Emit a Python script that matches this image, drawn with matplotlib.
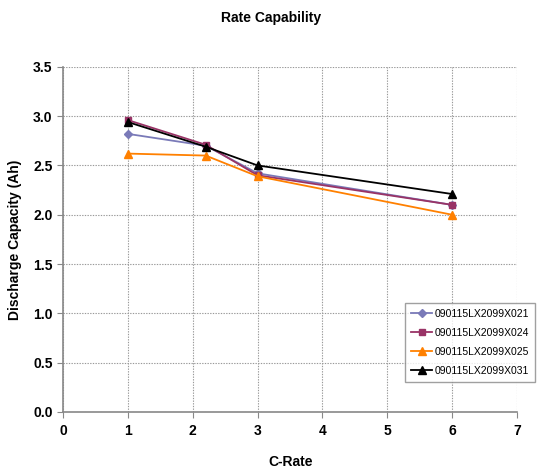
import matplotlib
matplotlib.use("Agg")
import matplotlib.pyplot as plt

plt.rcParams['font.family'] = ['Liberation Sans Narrow', 'Liberation Sans', 'DejaVu Sans']

c_rate = [1, 2.2, 3, 6]
s021 = [2.82, 2.70, 2.42, 2.10]
s024 = [2.96, 2.71, 2.40, 2.10]
s025 = [2.62, 2.60, 2.39, 2.00]
s031 = [2.94, 2.69, 2.50, 2.21]
labels = ["090115LX2099X021", "090115LX2099X024", "090115LX2099X025", "090115LX2099X031"]
xticks = [0, 1, 2, 3, 4, 5, 6, 7]
yticks = [0.0, 0.5, 1.0, 1.5, 2.0, 2.5, 3.0, 3.5]

fig = plt.figure(figsize=(5.43, 4.74), dpi=100)
ax = fig.add_axes([0.116, 0.131, 0.836, 0.728])

styles = [
    dict(color="#7a7ab8", marker="D", markersize=4),
    dict(color="#993366", marker="s", markersize=5),
    dict(color="#ff8000", marker="^", markersize=6),
    dict(color="#000000", marker="^", markersize=6),
]
for ys, lab, st in zip([s021, s024, s025, s031], labels, styles):
    ax.plot(c_rate, ys, label=lab, linewidth=1.3, **st)

ax.set_xlim(0, 7)
ax.set_ylim(0, 3.5)
ax.set_xticks(xticks)
ax.set_yticks(yticks)
ax.set_yticklabels([f"{v:.1f}" for v in yticks])
ax.grid(True, linestyle=(0, (1.2, 1.2)), color="#999999", linewidth=0.8)
for s in ["top", "right"]:
    ax.spines[s].set_visible(False)
for s in ["left", "bottom"]:
    ax.spines[s].set_color("#888888")
    ax.spines[s].set_linewidth(1.2)
ax.tick_params(colors="#888888", labelcolor="black", labelsize=10, length=4)
ax.tick_params(axis="x", pad=5)
for t in ax.get_xticklabels() + ax.get_yticklabels():
    t.set_fontweight("bold")

ax.set_ylabel("Discharge Capacity (Ah)", fontsize=10, fontweight="bold", labelpad=8)
fig.text(0.535, 0.025, "C-Rate", ha="center", va="center", fontsize=10, fontweight="bold")
fig.text(0.5, 0.962, "Rate Capability", ha="center", va="center", fontsize=10, fontweight="bold")

leg = ax.legend(loc="lower right", bbox_to_anchor=(1.04, 0.087), fontsize=7.5, frameon=True,
                fancybox=False, edgecolor="#888888", borderpad=0.6, labelspacing=0.85,
                handlelength=2.0, handletextpad=0.2, borderaxespad=0)
leg.get_frame().set_linewidth(1.0)

fig.savefig("out.png", dpi=100)
